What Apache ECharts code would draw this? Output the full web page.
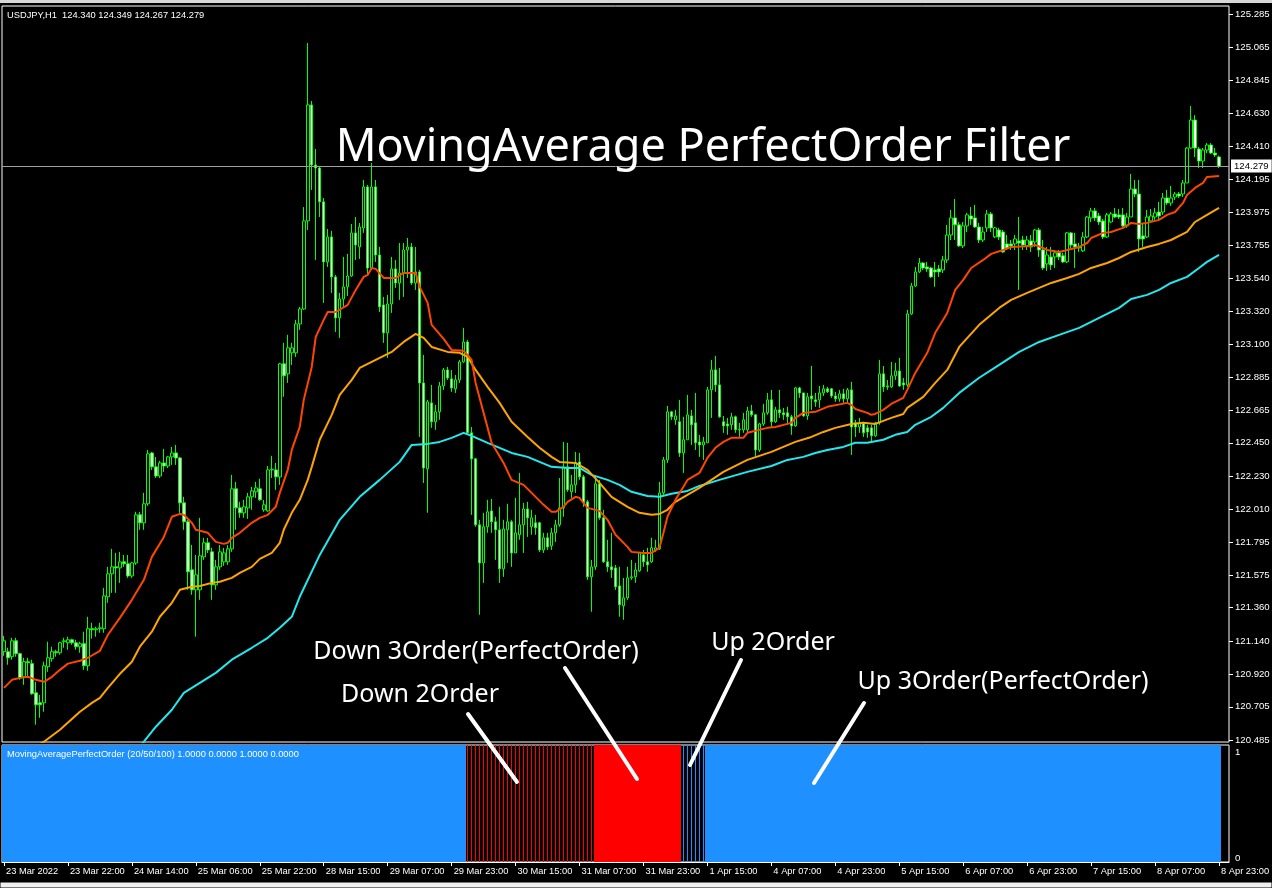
<!DOCTYPE html>
<html><head><meta charset="utf-8">
<script src="https://cdn.jsdelivr.net/npm/echarts@6/dist/echarts.min.js"></script>
<style>html,body{margin:0;padding:0;background:#000;}#c{width:1272px;height:888px;}</style>
</head><body><div id="c"></div>
<script>
// ---- DATA ----
const symbolLabel = 'USDJPY,H1  124.340 124.349 124.267 124.279';
const indicatorLabel = 'MovingAveragePerfectOrder (20/50/100) 1.0000 0.0000 1.0000 0.0000';
const currentPrice = 124.279;
const priceTicks = [125.285,125.065,124.845,124.630,124.410,124.195,123.975,123.755,123.540,123.320,123.100,122.885,122.665,122.450,122.230,122.010,121.795,121.575,121.360,121.140,120.920,120.705,120.485];
const timeTickIndex = [0,16,32,48,64,80,96,112,128,144,160,176,192,208,224,240,256,272,288,304];
const timeTickLabels = ['23 Mar 2022','23 Mar 22:00','24 Mar 14:00','25 Mar 06:00','25 Mar 22:00','28 Mar 15:00','29 Mar 07:00','29 Mar 23:00','30 Mar 15:00','31 Mar 07:00','31 Mar 23:00','1 Apr 15:00','4 Apr 07:00','4 Apr 23:00','5 Apr 15:00','6 Apr 07:00','6 Apr 23:00','7 Apr 15:00','8 Apr 07:00','8 Apr 23:00'];
// [open, close, low, high]
const candles = [
[121.069,121.141,121.042,121.174],[121.069,121.029,120.983,121.095],[121.036,121.141,121.016,121.161],[121.141,121.056,121.036,121.161],
[121.056,120.896,120.883,121.062],[120.903,121.003,120.850,121.029],[121.003,120.996,120.903,121.029],[120.990,120.791,120.784,121.016],
[120.797,120.718,120.586,120.870],[120.731,120.718,120.632,120.784],[120.731,120.976,120.672,121.003],[120.970,121.029,120.936,121.135],
[121.023,121.069,121.003,121.102],[121.069,121.062,121.036,121.082],[121.062,121.128,121.049,121.135],[121.135,121.141,121.095,121.161],
[121.128,121.148,121.082,121.168],[121.148,121.128,121.115,121.155],[121.128,121.102,121.082,121.148],[121.102,121.122,121.062,121.135],
[121.122,120.976,120.949,121.201],[120.976,121.221,120.943,121.300],[121.221,121.214,121.155,121.260],[121.214,121.221,121.168,121.234],
[121.221,121.227,121.194,121.260],[121.221,121.438,121.194,121.491],[121.432,121.584,121.392,121.630],[121.584,121.630,121.458,121.749],
[121.630,121.623,121.458,121.722],[121.623,121.663,121.524,121.729],[121.663,121.650,121.630,121.709],[121.650,121.570,121.557,121.709],
[121.570,121.656,121.557,121.663],[121.656,121.974,121.643,121.994],[121.974,121.921,121.875,121.994],[121.921,122.047,121.875,122.119],
[122.047,122.377,122.033,122.403],[122.383,122.291,122.271,122.390],[122.291,122.231,122.218,122.357],[122.231,122.317,122.218,122.331],
[122.317,122.297,122.258,122.410],[122.297,122.357,122.284,122.364],[122.357,122.383,122.304,122.423],[122.383,122.350,122.304,122.436],
[122.350,122.053,121.987,122.357],[122.053,121.928,121.875,122.093],[121.928,121.597,121.478,121.941],[121.610,121.478,121.445,121.775],
[121.478,121.577,121.168,121.709],[121.478,121.703,121.412,121.954],[121.696,121.789,121.676,121.822],[121.789,121.742,121.722,121.822],
[121.729,121.511,121.412,121.756],[121.511,121.630,121.478,121.676],[121.630,121.729,121.610,121.775],[121.663,121.722,121.637,121.756],
[121.663,121.749,121.643,121.775],[121.749,122.146,121.729,122.238],[122.146,122.020,121.875,122.192],[122.020,121.987,121.954,122.060],
[121.987,122.027,121.954,122.073],[122.020,122.093,121.947,122.119],[122.093,122.132,122.007,122.159],[122.126,122.152,122.086,122.192],
[122.146,122.073,122.066,122.212],[122.007,122.040,121.994,122.073],[122.000,122.271,121.994,122.297],[122.271,122.275,122.218,122.364],
[122.271,122.225,122.139,122.317],[122.225,122.972,122.172,122.979],[122.972,122.893,122.754,123.111],[122.906,123.078,122.846,123.164],
[123.045,123.078,122.965,123.111],[123.045,123.236,123.018,123.263],[123.236,123.335,123.197,123.349],[123.335,123.917,123.329,124.009],
[123.917,124.684,123.857,125.093],[124.684,124.287,124.122,124.710],[124.287,124.267,123.659,124.393],[124.267,124.043,123.943,124.274],
[124.043,123.646,123.375,124.069],[123.646,123.811,123.613,123.864],[123.811,123.547,123.441,123.851],[123.547,123.276,123.183,123.560],
[123.276,123.401,123.144,123.441],[123.401,123.481,123.349,123.679],[123.481,123.553,123.421,123.699],[123.553,123.838,123.547,123.897],
[123.838,123.758,123.659,123.943],[123.745,123.877,123.666,123.904],[123.871,124.142,123.838,124.188],[124.142,123.606,123.553,124.155],
[123.606,124.142,123.593,124.300],[124.142,123.692,123.646,124.188],[123.692,123.349,123.315,123.745],[123.362,123.177,123.111,123.415],
[123.177,123.368,123.012,123.428],[123.368,123.600,123.309,123.679],[123.600,123.507,123.474,123.659],[123.507,123.573,123.395,123.771],
[123.573,123.725,123.415,123.771],[123.725,123.745,123.540,123.804],[123.745,123.507,123.494,123.771],[123.507,123.580,123.461,123.745],
[123.580,122.846,122.489,123.593],[122.846,122.284,122.185,123.031],[122.278,122.721,121.987,122.734],[122.714,122.589,122.549,122.833],
[122.589,122.655,122.536,122.701],[122.655,122.826,122.602,122.853],[122.826,122.932,122.800,122.945],[122.932,122.879,122.866,122.952],
[122.873,122.813,122.787,122.932],[122.807,122.866,122.780,122.899],[122.866,122.985,122.846,122.998],[122.985,123.117,122.979,123.210],
[123.117,122.516,122.509,123.131],[122.516,122.344,121.974,122.555],[122.344,121.908,121.895,122.350],[121.908,121.656,121.313,121.941],
[121.656,121.895,121.524,121.987],[121.895,121.994,121.855,122.073],[122.000,121.928,121.855,122.079],[121.928,121.875,121.676,121.961],
[121.875,121.617,121.524,122.027],[121.617,121.881,121.564,121.941],[121.875,121.928,121.656,122.047],[121.928,121.722,121.630,121.941],
[121.722,121.855,121.722,122.086],[121.842,121.908,121.809,122.251],[121.908,122.013,121.722,122.053],[122.013,121.954,121.828,122.060],
[121.895,121.954,121.842,122.007],[121.921,121.888,121.842,121.974],[121.921,121.742,121.729,121.928],[121.742,121.822,121.722,121.855],
[121.822,121.762,121.742,121.855],[121.769,121.855,121.742,121.888],[121.855,121.908,121.795,121.941],[121.908,122.020,121.895,122.218],
[122.020,122.291,121.961,122.456],[122.291,122.139,122.126,122.450],[122.126,122.172,122.086,122.238],[122.172,122.317,122.119,122.390],
[122.324,122.225,122.205,122.383],[122.225,122.053,122.027,122.238],[122.060,121.564,121.544,122.073],[121.564,121.630,121.333,121.676],
[121.630,122.179,121.610,122.225],[122.179,121.954,121.941,122.205],[121.954,121.663,121.656,122.007],[121.663,121.630,121.597,121.809],
[121.630,121.610,121.557,121.855],[121.623,121.498,121.478,121.643],[121.504,121.379,121.300,121.630],[121.372,121.425,121.280,121.557],
[121.425,121.557,121.412,121.630],[121.557,121.564,121.544,121.676],[121.564,121.610,121.524,121.656],[121.604,121.722,121.597,121.729],
[121.709,121.663,121.630,121.742],[121.663,121.643,121.597,121.756],[121.663,121.756,121.656,121.822],[121.742,121.756,121.729,121.809],
[121.749,122.119,121.742,122.192],[122.119,122.337,122.106,122.357],[122.337,122.655,122.317,122.694],[122.655,122.622,122.602,122.660],
[122.602,122.628,122.569,122.668],[122.589,122.383,122.357,122.734],[122.383,122.470,122.251,122.622],[122.470,122.635,122.470,122.767],
[122.628,122.569,122.436,122.668],[122.582,122.450,122.403,122.780],[122.456,122.436,122.357,122.503],[122.436,122.456,122.337,122.489],
[122.450,122.800,122.450,122.820],[122.800,122.932,122.615,122.998],[122.932,122.833,122.787,123.025],[122.833,122.622,122.615,122.945],
[122.589,122.562,122.516,122.628],[122.575,122.562,122.503,122.615],[122.569,122.622,122.536,122.648],[122.622,122.536,122.516,122.630],
[122.536,122.540,122.489,122.582],[122.536,122.602,122.516,122.648],[122.536,122.661,122.516,122.688],[122.661,122.635,122.622,122.701],
[122.635,122.403,122.350,122.641],[122.403,122.575,122.390,122.582],[122.575,122.648,122.562,122.708],[122.648,122.734,122.635,122.780],
[122.734,122.589,122.555,122.800],[122.589,122.668,122.582,122.688],[122.668,122.648,122.615,122.800],[122.648,122.635,122.602,122.681],
[122.648,122.622,122.569,122.688],[122.622,122.562,122.503,122.635],[122.562,122.813,122.555,122.820],[122.813,122.780,122.747,122.820],
[122.780,122.628,122.622,122.780],[122.628,122.754,122.602,122.780],[122.760,122.741,122.668,122.958],[122.734,122.721,122.688,122.780],
[122.734,122.780,122.681,122.826],[122.780,122.807,122.760,122.833],[122.807,122.787,122.780,122.820],[122.807,122.760,122.747,122.813],
[122.760,122.741,122.721,122.787],[122.741,122.774,122.721,122.800],[122.774,122.741,122.714,122.807],[122.741,122.800,122.714,122.813],
[122.800,122.555,122.370,122.853],[122.582,122.555,122.489,122.602],[122.555,122.582,122.516,122.615],[122.582,122.516,122.489,122.589],
[122.549,122.522,122.483,122.569],[122.549,122.496,122.450,122.569],[122.496,122.582,122.489,122.589],[122.582,122.906,122.569,122.998],
[122.906,122.820,122.787,122.958],[122.826,122.820,122.800,122.866],[122.820,122.893,122.813,122.985],[122.893,122.925,122.866,122.979],
[122.925,122.826,122.820,123.011],[122.846,122.833,122.800,122.879],[122.833,123.302,122.820,123.329],[123.302,123.487,123.296,123.507],
[123.487,123.580,123.481,123.613],[123.580,123.639,123.573,123.672],[123.639,123.606,123.593,123.646],[123.613,123.600,123.580,123.646],
[123.606,123.547,123.540,123.613],[123.593,123.580,123.481,123.646],[123.600,123.580,123.547,123.626],[123.593,123.659,123.573,123.686],
[123.659,123.824,123.639,123.891],[123.824,123.937,123.791,123.990],[123.937,123.891,123.791,124.062],[123.891,123.752,123.745,123.910],
[123.752,123.884,123.738,123.910],[123.884,123.957,123.844,123.970],[123.950,123.930,123.891,124.009],[123.937,123.877,123.871,124.023],
[123.877,123.791,123.771,123.904],[123.791,123.844,123.778,123.877],[123.871,123.963,123.844,123.990],[123.963,123.871,123.844,123.976],
[123.811,123.871,123.804,123.877],[123.857,123.811,123.791,123.871],[123.844,123.712,123.706,123.857],[123.765,123.738,123.725,123.824],
[123.765,123.752,123.725,123.791],[123.765,123.798,123.725,123.824],[123.785,123.771,123.461,123.943],[123.791,123.758,123.725,123.818],
[123.752,123.791,123.725,123.818],[123.785,123.745,123.712,123.824],[123.778,123.857,123.745,123.864],[123.857,123.725,123.679,123.871],
[123.725,123.606,123.593,123.791],[123.633,123.692,123.587,123.745],[123.679,123.626,123.593,123.745],[123.679,123.706,123.606,123.725],
[123.706,123.679,123.659,123.725],[123.686,123.646,123.639,123.706],[123.646,123.838,123.639,123.844],[123.838,123.758,123.738,123.844],
[123.765,123.745,123.606,123.838],[123.745,123.738,123.712,123.771],[123.719,123.811,123.712,123.844],[123.811,123.943,123.804,123.950],
[123.937,123.983,123.910,124.003],[123.983,123.937,123.917,124.003],[123.950,123.910,123.891,123.970],[123.917,123.811,123.798,123.930],
[123.811,123.957,123.804,123.970],[123.910,123.963,123.904,123.976],[123.963,123.943,123.937,124.003],[123.957,123.943,123.930,123.996],
[123.957,123.884,123.877,124.003],[123.884,123.943,123.871,123.970],[123.943,124.128,123.943,124.228],[124.128,124.095,124.075,124.188],
[124.095,123.798,123.712,124.188],[123.818,123.798,123.745,123.904],[123.811,123.943,123.804,123.990],[123.917,123.950,123.904,123.996],
[123.943,123.970,123.924,124.003],[123.976,123.950,123.924,124.043],[123.976,124.069,123.957,124.102],[124.069,124.036,124.023,124.122],
[124.036,124.069,124.016,124.148],[124.075,124.095,124.056,124.108],[124.095,124.082,124.069,124.108],[124.095,124.168,124.075,124.188],
[124.168,124.399,124.168,124.406],[124.399,124.584,124.393,124.677],[124.584,124.399,124.340,124.617],[124.393,124.313,124.267,124.406],
[124.313,124.386,124.267,124.399],[124.386,124.419,124.366,124.432],[124.419,124.366,124.360,124.432],[124.366,124.353,124.340,124.399],
[124.340,124.279,124.267,124.349]
];
// moving averages: [bar index, price]
const ma20 = [[0,120.830],[2,120.883],[4,120.896],[6,120.903],[8,120.883],[10,120.870],[12,120.903],[14,120.949],[16,120.990],[19,121.009],[21,121.029],[24,121.075],[26,121.181],[29,121.293],[32,121.412],[35,121.544],[37,121.696],[40,121.828],[42,121.961],[44,121.980],[45,121.974],[47,121.921],[48,121.875],[51,121.855],[53,121.795],[55,121.782],[56,121.789],[57,121.822],[59,121.855],[62,121.921],[64,121.954],[66,121.974],[68,122.027],[69,122.119],[71,122.271],[72,122.403],[74,122.555],[75,122.734],[77,122.952],[78,123.150],[80,123.263],[81,123.315],[83,123.315],[86,123.362],[88,123.461],[90,123.547],[91,123.560],[92,123.606],[93,123.600],[95,123.540],[98,123.540],[100,123.573],[103,123.573],[104,123.481],[106,123.375],[107,123.230],[110,123.137],[112,123.064],[115,123.058],[116,123.031],[117,122.998],[118,122.846],[120,122.648],[122,122.450],[125,122.317],[127,122.205],[130,122.172],[132,122.119],[135,122.040],[137,121.994],[138,121.994],[140,122.027],[141,122.060],[143,122.093],[144,122.086],[146,122.020],[149,122.000],[151,121.941],[153,121.842],[156,121.762],[157,121.729],[160,121.722],[162,121.722],[164,121.756],[165,121.855],[166,121.961],[168,122.073],[170,122.159],[171,122.205],[174,122.251],[176,122.350],[178,122.417],[180,122.456],[182,122.483],[185,122.483],[186,122.516],[191,122.549],[193,122.555],[197,122.582],[198,122.615],[200,122.648],[203,122.655],[206,122.688],[211,122.714],[212,122.701],[213,122.674],[216,122.648],[217,122.635],[218,122.641],[220,122.668],[222,122.707],[225,122.747],[226,122.800],[228,122.912],[231,123.045],[233,123.177],[236,123.309],[238,123.461],[240,123.527],[242,123.606],[245,123.659],[247,123.699],[250,123.725],[252,123.745],[257,123.752],[258,123.758],[260,123.738],[261,123.725],[264,123.712],[266,123.725],[269,123.745],[271,123.771],[272,123.804],[275,123.838],[277,123.844],[280,123.871],[282,123.904],[284,123.897],[286,123.904],[289,123.924],[291,123.957],[293,123.976],[295,124.036],[296,124.089],[298,124.135],[300,124.168],[301,124.208],[304,124.214]];
const ma50 = [[0,120.308],[10,120.474],[14,120.553],[19,120.672],[22,120.731],[24,120.764],[26,120.830],[29,120.923],[32,121.003],[34,121.102],[37,121.201],[39,121.300],[42,121.392],[44,121.478],[47,121.498],[49,121.504],[52,121.524],[54,121.531],[57,121.557],[59,121.590],[62,121.630],[64,121.683],[67,121.722],[69,121.789],[70,121.875],[72,121.987],[74,122.073],[76,122.205],[77,122.291],[79,122.470],[82,122.635],[84,122.767],[87,122.866],[89,122.945],[93,122.998],[97,123.051],[100,123.117],[103,123.170],[105,123.144],[107,123.084],[111,123.051],[114,123.045],[116,123.018],[118,122.932],[121,122.820],[124,122.714],[127,122.589],[131,122.489],[134,122.417],[137,122.357],[139,122.324],[143,122.317],[146,122.271],[149,122.185],[152,122.093],[156,122.027],[159,121.987],[162,121.974],[164,121.980],[166,122.007],[168,122.060],[171,122.106],[174,122.152],[180,122.258],[186,122.337],[192,122.390],[195,122.423],[198,122.456],[202,122.489],[205,122.522],[208,122.549],[212,122.575],[215,122.582],[218,122.575],[222,122.615],[225,122.641],[226,122.681],[230,122.754],[233,122.846],[236,122.932],[239,123.084],[244,123.230],[249,123.342],[252,123.395],[256,123.441],[259,123.474],[262,123.507],[266,123.540],[269,123.567],[272,123.606],[276,123.639],[279,123.672],[282,123.712],[286,123.745],[289,123.765],[292,123.791],[296,123.844],[298,123.910],[301,123.957],[304,124.003]];
const ma100 = [[0,119.700],[24,120.190],[35,120.474],[38,120.573],[42,120.685],[45,120.797],[49,120.863],[53,120.929],[57,121.016],[62,121.095],[66,121.161],[69,121.227],[72,121.300],[74,121.432],[79,121.709],[84,121.941],[89,122.093],[94,122.205],[99,122.324],[102,122.436],[106,122.443],[109,122.456],[112,122.483],[115,122.516],[117,122.496],[121,122.450],[124,122.417],[127,122.383],[131,122.357],[134,122.324],[137,122.291],[141,122.284],[144,122.284],[147,122.238],[151,122.205],[154,122.172],[157,122.126],[161,122.099],[164,122.093],[167,122.113],[171,122.132],[174,122.165],[179,122.205],[186,122.258],[192,122.297],[196,122.337],[200,122.357],[203,122.383],[206,122.403],[210,122.423],[213,122.450],[216,122.450],[220,122.470],[223,122.503],[226,122.522],[228,122.569],[232,122.622],[235,122.681],[239,122.780],[244,122.880],[249,122.965],[254,123.051],[259,123.117],[264,123.164],[269,123.210],[274,123.276],[279,123.342],[282,123.401],[286,123.428],[289,123.461],[292,123.507],[296,123.547],[299,123.606],[301,123.646],[304,123.692]];
// indicator state runs: [first bar, last bar, state]
const signalRuns = [[0,115,'up3'],[116,147,'down2'],[148,169,'down3'],[170,175,'up2'],[176,304,'up3']];
const stateStyles = {up3: {color: '#1e90ff', full: 1}, up2: {color: '#1e90ff', full: 0}, down3: {color: '#ff0000', full: 1}, down2: {color: '#ff0000', full: 0}};
const annotations = ['Down 3Order(PerfectOrder)','Up 2Order','Down 2Order','Up 3Order(PerfectOrder)'];
const chartTitle = 'MovingAverage PerfectOrder Filter';

// ---- BUILD ----
const slotCount = candles.length + 2; // right-side chart shift
const cats = Array.from({length: slotCount}, (_, i) => String(i));
const tickMap = new Map(timeTickIndex.map((v, k) => [v, timeTickLabels[k]]));
const stateKeys = Object.keys(stateStyles);
const signalData = [];
signalRuns.forEach(([a, b, k]) => { for (let i = a; i <= b; i++) signalData.push([i, 1, stateKeys.indexOf(k)]); });

function renderSignal(params, api) {
  const i = api.value(0);
  const st = stateStyles[stateKeys[api.value(2)]];
  const top = api.coord([i, api.value(1)]);
  const bot = api.coord([i, 0]);
  const band = api.size([1, 0])[0];
  let x0, x1;
  if (st.full) { x0 = Math.round(top[0] - band / 2); x1 = Math.round(top[0] + band / 2); }
  else { x0 = Math.floor(top[0]); x1 = x0 + 1; }
  return {type: 'rect', shape: {x: x0, y: top[1], width: x1 - x0, height: bot[1] - top[1]}, style: {fill: st.color}};
}

const LBL = 'Liberation Sans';
const FS = 9.3;
const chart = echarts.init(document.getElementById('c'), null, {renderer: 'canvas'});
const option = {
  backgroundColor: '#000',
  animation: false,
  grid: [
    {left: 2, top: 6, width: 1227, height: 736, show: true, borderColor: '#fff', borderWidth: 1, backgroundColor: '#000', outerBoundsMode: 'none'},
    {left: 2, top: 745, width: 1227, height: 117, show: true, borderColor: '#fff', borderWidth: 1, backgroundColor: '#000', outerBoundsMode: 'none'}
  ],
  xAxis: [
    {type: 'category', gridIndex: 0, data: cats, boundaryGap: true, axisLine: {show: false}, axisTick: {show: false}, axisLabel: {show: false}, splitLine: {show: false}},
    {type: 'category', gridIndex: 1, data: cats, boundaryGap: true,
     axisLine: {show: true, lineStyle: {color: '#fff', width: 1}},
     axisTick: {show: true, alignWithLabel: true, interval: (i) => tickMap.has(i), length: 4, lineStyle: {color: '#fff'}},
     axisLabel: {show: true, interval: (i) => tickMap.has(i), formatter: (v, i) => tickMap.get(Number(v)) || '', color: '#fff', fontFamily: LBL, fontSize: FS, align: 'left', margin: 5, padding: [0, 0, 0, 2]},
     splitLine: {show: false}}
  ],
  yAxis: [
    {type: 'value', gridIndex: 0, position: 'right', min: 120.472, max: 125.338, scale: true,
     axisLine: {show: false}, splitLine: {show: false},
     axisTick: {show: true, customValues: priceTicks, length: 4, lineStyle: {color: '#fff'}},
     axisLabel: {show: true, customValues: priceTicks, formatter: (v) => Number(v).toFixed(3), color: '#fff', fontFamily: LBL, fontSize: 9.6, margin: 6}},
    {type: 'value', gridIndex: 1, position: 'right', min: 0, max: 1,
     axisLine: {show: false}, splitLine: {show: false},
     axisTick: {show: false},
     axisLabel: {show: true, customValues: [0, 1], color: '#fff', fontFamily: LBL, fontSize: 9.6, margin: 6,
       formatter: (v) => v >= 1 ? '{t|1}' : '{b|0}',
       rich: {t: {color: '#fff', fontFamily: LBL, fontSize: 9.6, padding: [14, 0, 0, 0]}, b: {color: '#fff', fontFamily: LBL, fontSize: 9.6, padding: [0, 0, 8, 0]}}}}
  ],
  series: [
    {type: 'candlestick', name: 'USDJPY', xAxisIndex: 0, yAxisIndex: 0, data: candles, barWidth: 3, z: 2,
     itemStyle: {color: '#000', color0: '#fff', borderColor: '#00ff00', borderColor0: '#00ff00', borderColorDoji: '#00ff00', borderWidth: 1},
     markLine: {silent: true, symbol: 'none', animation: false,
       lineStyle: {color: '#a0a0a0', type: 'solid', width: 1},
       label: {show: true, position: 'end', distance: 2, formatter: currentPrice.toFixed(3), backgroundColor: '#fff', color: '#000', fontFamily: LBL, fontSize: 9.6, padding: [2, 3, 1, 3]},
       data: [{yAxis: currentPrice}]}},
    {type: 'line', name: 'MA100', xAxisIndex: 0, yAxisIndex: 0, data: ma100, showSymbol: false, z: 3, lineStyle: {color: '#22e8f0', width: 2}, clip: true},
    {type: 'line', name: 'MA50', xAxisIndex: 0, yAxisIndex: 0, data: ma50, showSymbol: false, z: 3, lineStyle: {color: '#ffa500', width: 2}, clip: true},
    {type: 'line', name: 'MA20', xAxisIndex: 0, yAxisIndex: 0, data: ma20, showSymbol: false, z: 4, lineStyle: {color: '#ff4500', width: 2}, clip: true},
    {type: 'custom', name: 'PerfectOrder', xAxisIndex: 1, yAxisIndex: 1, data: signalData, renderItem: renderSignal, silent: true, clip: true, encode: {x: 0, y: 1}}
  ],
  graphic: [
    {type: 'rect', silent: true, z: 50, shape: {x: 0, y: 0, width: 1272, height: 3}, style: {fill: '#d8d8d8'}},
    {type: 'rect', silent: true, z: 50, shape: {x: 0, y: 882, width: 1272, height: 6}, style: {fill: '#f0f0f0', stroke: '#000', lineWidth: 1}},
    {type: 'text', silent: true, z: 60, x: 7, y: 15, style: {text: symbolLabel, fill: '#fff', font: FS + 'px "Liberation Sans"', textVerticalAlign: 'middle', verticalAlign: 'middle'}},
    {type: 'text', silent: true, z: 60, x: 7, y: 754, style: {text: indicatorLabel, fill: '#fff', font: FS + 'px "Liberation Sans"', textVerticalAlign: 'middle', verticalAlign: 'middle'}},
    {type: 'text', silent: true, z: 60, x: 703, y: 148, style: {text: chartTitle, fill: '#fff', font: '45px "Noto Sans"', textAlign: 'center', align: 'center', textVerticalAlign: 'middle', verticalAlign: 'middle'}},
    {type: 'text', silent: true, z: 60, x: 476, y: 652, style: {text: annotations[0], fill: '#fff', font: '25px "Noto Sans"', textAlign: 'center', align: 'center', textVerticalAlign: 'middle', verticalAlign: 'middle'}},
    {type: 'text', silent: true, z: 60, x: 773, y: 643, style: {text: annotations[1], fill: '#fff', font: '25px "Noto Sans"', textAlign: 'center', align: 'center', textVerticalAlign: 'middle', verticalAlign: 'middle'}},
    {type: 'text', silent: true, z: 60, x: 420, y: 695, style: {text: annotations[2], fill: '#fff', font: '25px "Noto Sans"', textAlign: 'center', align: 'center', textVerticalAlign: 'middle', verticalAlign: 'middle'}},
    {type: 'text', silent: true, z: 60, x: 1003, y: 682, style: {text: annotations[3], fill: '#fff', font: '25px "Noto Sans"', textAlign: 'center', align: 'center', textVerticalAlign: 'middle', verticalAlign: 'middle'}},
    {type: 'line', silent: true, z: 60, shape: {x1: 468, y1: 714, x2: 517, y2: 782}, style: {stroke: '#fff', lineWidth: 4, lineCap: 'round'}},
    {type: 'line', silent: true, z: 60, shape: {x1: 565, y1: 668, x2: 637, y2: 779}, style: {stroke: '#fff', lineWidth: 4, lineCap: 'round'}},
    {type: 'line', silent: true, z: 60, shape: {x1: 741, y1: 660, x2: 690, y2: 765}, style: {stroke: '#fff', lineWidth: 4, lineCap: 'round'}},
    {type: 'line', silent: true, z: 60, shape: {x1: 864, y1: 703, x2: 814, y2: 783}, style: {stroke: '#fff', lineWidth: 4, lineCap: 'round'}}
  ]
};
chart.setOption(option);
</script></body></html>
